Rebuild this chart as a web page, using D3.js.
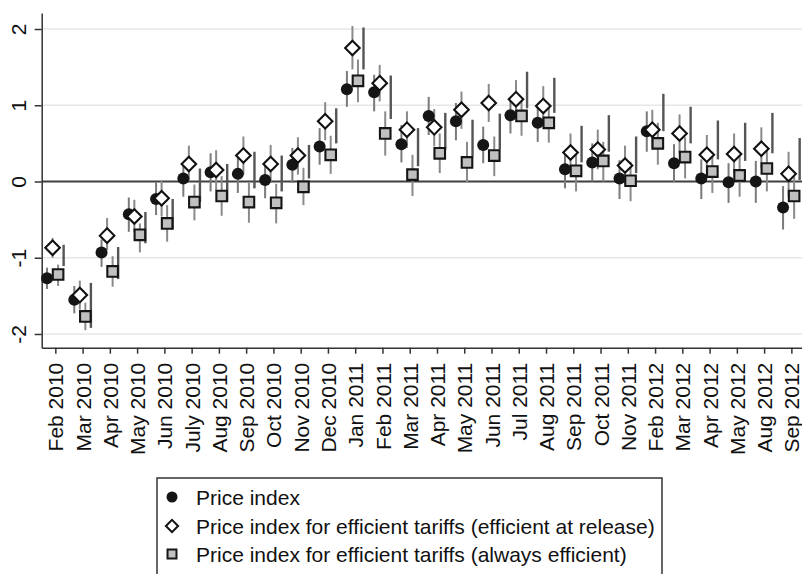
<!DOCTYPE html>
<html>
<head>
<meta charset="utf-8">
<script src="https://cdn.jsdelivr.net/npm/d3@7/dist/d3.min.js"></script>
<style>
  html, body { margin: 0; padding: 0; background: #fff; }
  svg { display: block; }
  text { font-family: "Liberation Sans", Arial, sans-serif; }
</style>
</head>
<body>
<svg id="chart" width="802" height="574"></svg>
<script>
const categories = ["Feb 2010","Mar 2010","Apr 2010","May 2010","Jun 2010","July 2010","Aug 2010","Sep 2010","Oct 2010","Nov 2010","Dec 2010","Jan 2011","Feb 2011","Mar 2011","Apr 2011","May 2011","Jun 2011","Jul 2011","Aug 2011","Sep 2011","Oct 2011","Nov 2011","Feb 2012","Mar 2012","Apr 2012","May 2012","Aug 2012","Sep 2012"];

const priceIndex   = [-1.27,-1.55,-0.93,-0.43,-0.23,0.04,0.12,0.10,0.02,0.22,0.46,1.21,1.17,0.49,0.86,0.79,0.48,0.87,0.77,0.16,0.25,0.04,0.66,0.24,0.04,-0.01,0.00,-0.34];
const priceIndexLo = [-1.41,-1.73,-1.12,-0.66,-0.44,-0.20,-0.13,-0.15,-0.22,-0.02,0.22,0.98,0.92,0.25,0.61,0.54,0.24,0.63,0.52,-0.09,0.00,-0.23,0.39,-0.01,-0.23,-0.28,-0.28,-0.63];
const priceIndexHi = [-1.13,-1.37,-0.76,-0.21,-0.01,0.23,0.37,0.33,0.26,0.44,0.70,1.45,1.40,0.74,1.11,1.03,0.72,1.11,0.99,0.39,0.50,0.28,0.92,0.49,0.29,0.24,0.27,-0.06];

const effRelease   = [-0.87,-1.49,-0.71,-0.46,-0.22,0.23,0.15,0.34,0.23,0.34,0.79,1.75,1.29,0.68,0.71,0.94,1.03,1.08,0.99,0.38,0.42,0.21,0.68,0.63,0.35,0.36,0.43,0.10];
const effReleaseLo = [-1.00,-1.68,-0.90,-0.66,-0.46,0.02,-0.11,0.09,-0.02,0.09,0.54,1.47,1.05,0.44,0.46,0.69,0.78,0.83,0.76,0.13,0.16,-0.04,0.42,0.37,0.09,0.11,0.17,-0.20];
const effReleaseHi = [-0.74,-1.30,-0.48,-0.24,0.01,0.47,0.41,0.59,0.48,0.58,1.04,2.04,1.53,0.92,0.95,1.18,1.28,1.33,1.25,0.63,0.68,0.47,0.94,0.88,0.61,0.63,0.71,0.39];

const effAlways    = [-1.22,-1.77,-1.18,-0.70,-0.55,-0.27,-0.19,-0.27,-0.28,-0.07,0.35,1.32,0.63,0.09,0.37,0.25,0.34,0.86,0.77,0.14,0.27,0.01,0.50,0.32,0.13,0.08,0.17,-0.19];
const effAlwaysLo  = [-1.37,-1.95,-1.38,-0.93,-0.79,-0.51,-0.45,-0.54,-0.55,-0.31,0.10,1.04,0.34,-0.19,0.11,-0.01,0.07,0.60,0.51,-0.13,0.00,-0.26,0.22,0.04,-0.15,-0.20,-0.13,-0.49];
const effAlwaysHi  = [-1.09,-1.59,-0.98,-0.55,-0.31,-0.04,0.07,-0.02,-0.03,0.18,0.60,1.60,0.92,0.35,0.63,0.52,0.59,1.11,1.01,0.38,0.52,0.26,0.77,0.58,0.39,0.35,0.44,0.10];

const extraLo      = [-1.11,-1.92,-1.28,-0.81,-0.63,-0.27,-0.27,-0.09,-0.13,0.04,0.50,1.47,0.82,0.20,0.42,0.33,0.42,0.96,0.90,0.25,0.39,0.11,0.66,0.50,0.29,0.27,0.37,0.02];
const extraHi      = [-0.83,-1.33,-0.86,-0.40,-0.23,0.17,0.23,0.39,0.34,0.48,0.96,2.02,1.39,0.70,0.90,0.81,0.89,1.44,1.36,0.73,0.87,0.59,1.15,0.98,0.80,0.77,0.90,0.57];

const yTickValues = [-2,-1,0,1,2];
const yTickLabels = ["-2","-1","0","1","2"];
const seriesNames = ["Price index","Price index for efficient tariffs (efficient at release)","Price index for efficient tariffs (always efficient)"];
const slots = ["price","release","always","extra"];

const svg = d3.select("#chart");
const W = 802, H = 574;
svg.append("rect").attr("width", W).attr("height", H).attr("fill", "#fff");

const plotLeft = 41.7, plotRight = 805, plotTop = 13, plotBottom = 347.7;
const x = d3.scalePoint().domain(categories).range([plotLeft, plotRight]).padding(0.5);
const off = d3.scalePoint().domain(slots).range([-8.3, 8.3]);
const y = d3.scaleLinear().domain([-2.18, 2.21]).range([plotBottom, plotTop]);
const FS = "21px";

// gridlines
svg.append("g").selectAll("line").data(yTickValues.filter(v => v !== 0)).join("line")
  .attr("x1", plotLeft).attr("x2", W)
  .attr("y1", d => y(d)).attr("y2", d => y(d))
  .attr("stroke", "#e6e6e6").attr("stroke-width", 1.6);
// zero line
svg.append("line").attr("x1", plotLeft).attr("x2", W)
  .attr("y1", y(0)).attr("y2", y(0))
  .attr("stroke", "#3f3f3f").attr("stroke-width", 2);

// y axis
const yAxis = svg.append("g").attr("transform", `translate(${plotLeft},0)`)
  .call(d3.axisLeft(y).tickValues(yTickValues).tickFormat((d, i) => yTickLabels[i]).tickSize(7).tickSizeOuter(0));
yAxis.select(".domain").attr("stroke", "#333").attr("stroke-width", 1.5);
yAxis.selectAll(".tick line").attr("stroke", "#333").attr("stroke-width", 1.5);
yAxis.selectAll(".tick text")
  .attr("x", 0).attr("dy", 0)
  .attr("transform", "translate(-16.2,0) rotate(-90)")
  .attr("text-anchor", "middle")
  .attr("fill", "#111")
  .style("font-size", FS).style("font-family", "'Liberation Sans', Arial, sans-serif");

// x axis
const xAxis = svg.append("g").attr("transform", `translate(0,${plotBottom})`)
  .call(d3.axisBottom(x).tickSize(6).tickSizeOuter(0));
xAxis.select(".domain").attr("stroke", "#333").attr("stroke-width", 1.5);
xAxis.selectAll(".tick line").attr("stroke", "#333").attr("stroke-width", 1.5);
xAxis.selectAll(".tick text")
  .attr("x", 0).attr("y", 0).attr("dy", "0.36em")
  .attr("transform", "translate(0,15) rotate(-90)")
  .attr("text-anchor", "end")
  .attr("fill", "#111")
  .style("font-size", FS).style("font-family", "'Liberation Sans', Arial, sans-serif");

// rows
const rows = categories.map((c, i) => ({
  c,
  price: priceIndex[i], priceLo: priceIndexLo[i], priceHi: priceIndexHi[i],
  release: effRelease[i], releaseLo: effReleaseLo[i], releaseHi: effReleaseHi[i],
  always: effAlways[i], alwaysLo: effAlwaysLo[i], alwaysHi: effAlwaysHi[i],
  extraLo: extraLo[i], extraHi: extraHi[i]
}));

const ciG = svg.append("g");
function ci(key, color, width) {
  ciG.append("g").selectAll("line").data(rows).join("line")
    .attr("x1", d => x(d.c) + off(key)).attr("x2", d => x(d.c) + off(key))
    .attr("y1", d => y(d[key + "Lo"])).attr("y2", d => y(d[key + "Hi"]))
    .attr("stroke", color).attr("stroke-width", width);
}
ci("price", "#7a7a7a", 2);
ci("release", "#8a8a8a", 2);
ci("always", "#8a8a8a", 2);
ci("extra", "#555", 2.4);

const mk = svg.append("g");
// circles
mk.append("g").selectAll("circle").data(rows).join("circle")
  .attr("cx", d => x(d.c) + off("price")).attr("cy", d => y(d.price))
  .attr("r", 6).attr("fill", "#151515");
// diamonds
const dia = d3.symbol().type(d3.symbolDiamond2).size(135);
mk.append("g").selectAll("path").data(rows).join("path")
  .attr("d", dia)
  .attr("transform", d => `translate(${x(d.c) + off("release")},${y(d.release)})`)
  .attr("fill", "#fff").attr("stroke", "#111").attr("stroke-width", 2.1);
// squares
const sq = d3.symbol().type(d3.symbolSquare).size(112);
mk.append("g").selectAll("path").data(rows).join("path")
  .attr("d", sq)
  .attr("transform", d => `translate(${x(d.c) + off("always")},${y(d.always)})`)
  .attr("fill", "#c0c0c0").attr("stroke", "#151515").attr("stroke-width", 2.1);

// legend
const lg = svg.append("g");
lg.append("rect").attr("x", 157).attr("y", 478).attr("width", 505).attr("height", 120)
  .attr("fill", "#fff").attr("stroke", "#333").attr("stroke-width", 1.5);
const ly = [497, 526, 554];
const lx = 172;
lg.append("circle").attr("cx", lx).attr("cy", ly[0]).attr("r", 5.5).attr("fill", "#151515");
lg.append("path").attr("d", d3.symbol().type(d3.symbolDiamond2).size(95))
  .attr("transform", `translate(${lx},${ly[1]})`)
  .attr("fill", "#fff").attr("stroke", "#111").attr("stroke-width", 2);
lg.append("path").attr("d", d3.symbol().type(d3.symbolSquare).size(80))
  .attr("transform", `translate(${lx},${ly[2]})`)
  .attr("fill", "#c0c0c0").attr("stroke", "#151515").attr("stroke-width", 2);
lg.selectAll("text").data(seriesNames).join("text")
  .attr("x", 196).attr("y", (d, i) => ly[i]).attr("dy", "0.36em")
  .attr("fill", "#111").style("font-size", FS)
  .text(d => d);
</script>
</body>
</html>
